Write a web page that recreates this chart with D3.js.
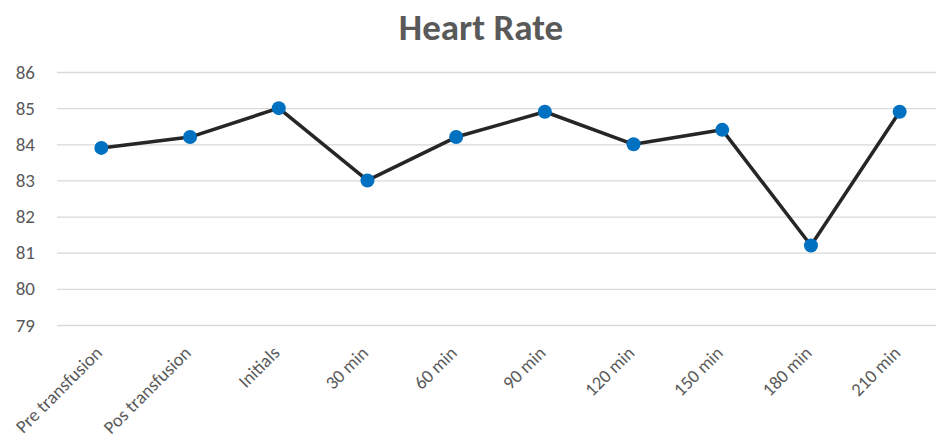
<!DOCTYPE html>
<html><head><meta charset="utf-8">
<script src="https://cdn.jsdelivr.net/npm/d3@7"></script>
<style>body{margin:0;background:#fff}svg{display:block}</style>
</head><body>
<svg id="c" width="936" height="437"></svg>
<script>
const categories = ["Pre transfusion","Pos transfusion","Initials","30 min","60 min","90 min","120 min","150 min","180 min","210 min"];
const heartRate = [83.9, 84.2, 85.0, 83.0, 84.2, 84.9, 84.0, 84.4, 81.2, 84.9];
const yTicks = [79, 80, 81, 82, 83, 84, 85, 86];
const title = "Heart Rate";

(function () {
const svg = d3.select("#c");
const font = "Calibri, Carlito, Lato, 'Open Sans', 'Liberation Sans', sans-serif";
const mLeft = 57, mRight = 944, mTop = 72, mBottom = 325;
const x = d3.scaleBand().domain(categories).range([mLeft, mRight]);
const y = d3.scaleLinear().domain([79, 86]).range([mBottom, mTop]);

svg.append("text").attr("x", 481).attr("y", 40).attr("text-anchor", "middle")
  .attr("font-family", font).attr("font-weight", "bold").attr("font-size", 37)
  .attr("fill", "#595959").text(title);

const yAxis = svg.append("g").attr("transform", `translate(${mLeft},0)`)
  .call(d3.axisLeft(y).tickValues(yTicks).tickSize(-(mRight - mLeft)).tickPadding(22).tickFormat(d3.format("d")));
yAxis.select(".domain").remove();
yAxis.selectAll(".tick line").attr("stroke", "#d9d9d9").attr("stroke-width", 1.3);
yAxis.selectAll(".tick text").attr("font-family", font).attr("font-size", 19).attr("fill", "#595959");

const xAxis = svg.append("g").attr("transform", `translate(0,${mBottom})`)
  .call(d3.axisBottom(x).tickSize(0).tickPadding(0));
xAxis.select(".domain").remove();
xAxis.selectAll(".tick text")
  .attr("font-family", font).attr("font-size", 18.5).attr("fill", "#595959")
  .attr("text-anchor", "end").attr("dy", null).attr("y", 0)
  .attr("transform", "translate(2,29) rotate(-45)");

const cx = d => x(d[0]) + x.bandwidth() / 2;
const pts = categories.map((c, i) => [c, heartRate[i]]);
svg.append("path").datum(pts)
  .attr("d", d3.line().x(cx).y(d => y(d[1])))
  .attr("fill", "none").attr("stroke", "#262626").attr("stroke-width", 3.5).attr("stroke-linejoin", "round");
svg.selectAll("circle.pt").data(pts).join("circle").attr("class", "pt")
  .attr("cx", cx).attr("cy", d => y(d[1])).attr("r", 7).attr("fill", "#0070C0");
})();
</script>
</body></html>
